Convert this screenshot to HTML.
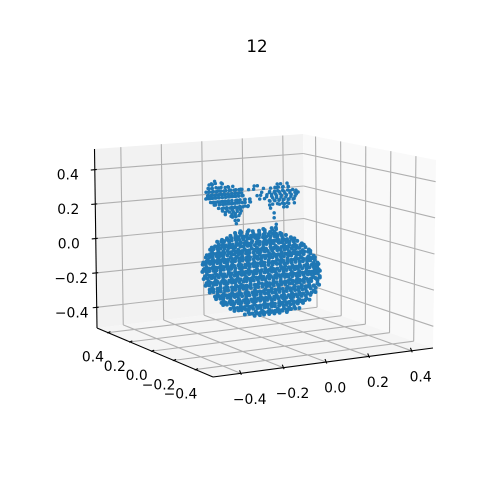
<!DOCTYPE html>
<html lang="en">
<head>
<meta charset="utf-8">
<title>12</title>
<style>
html,body{margin:0;padding:0;background:#fff;width:500px;height:500px;overflow:hidden}
svg{display:block}
text{font-family:"DejaVu Sans","Liberation Sans",sans-serif;fill:#000}
</style>
</head>
<body>
<svg id="chart" xmlns="http://www.w3.org/2000/svg" width="500" height="500" viewBox="0 0 500 500">
<text x="257" y="52" text-anchor="middle" font-size="16.67">12</text>
<g id="panes"></g>
<g id="grid"></g>
<g id="axes"></g>
<g id="labels"></g>
<g id="points" fill="#1f77b4"></g>
</svg>
<script>
const xTicks = [-0.4, -0.2, 0, 0.2, 0.4];
const yTicks = [-0.4, -0.2, 0, 0.2, 0.4];
const zTicks = [-0.4, -0.2, 0, 0.2, 0.4];
const tickText = ['\u22120.4', '\u22120.2', '0.0', '0.2', '0.4'];

// Scatter points: each slice has one y, one z and a list of x values.
const bodySliceZ = [.095,.085,.065,.045,.025,.005,-.015,-.035,-.055,-.075,-.095,-.115,-.135,-.155,-.175,-.195,-.215,-.235,-.255,-.275,-.295,-.315,-.335,-.355,-.375,-.395];
const bodySliceY = [0,.01,-.01,.012,-.006,.01,-.012,.006,-.01,.012,-.008,.01,-.012,.008,-.01,.012,-.006,.01,-.012,.006,-.01,.012,-.008,.01,-.012,.006];
const bodySliceX = [
 [-.1,-.06,.01,.05,.07],
 [-.12,-.09,-.06,-.035,-.005,.022],
 [-.17,-.15,-.13,-.115,-.09,-.075,-.055,-.03,-.015,.005,.03,.05,.065,.085],
 [-.205,-.185,-.17,-.15,-.135,-.115,-.1,-.08,-.06,-.045,-.02,-.005,.015,.03,.05,.07,.085,.105,.125],
 [-.225,-.21,-.19,-.175,-.155,-.14,-.12,-.105,-.085,-.07,-.05,-.025,-.01,.01,.025,.045,.06,.08,.105,.12,.14,.155],
 [-.24,-.225,-.205,-.19,-.17,-.15,-.135,-.12,-.095,-.08,-.06,-.045,-.025,-.005,.015,.03,.05,.065,.09,.105,.125,.14,.16,.178],
 [-.253,-.235,-.22,-.2,-.185,-.165,-.15,-.13,-.115,-.1,-.08,-.065,-.04,-.02,-.005,.015,.04,.055,.07,.09,.11,.125,.145,.16,.18,.197],
 [-.263,-.245,-.23,-.21,-.195,-.18,-.16,-.14,-.125,-.105,-.09,-.07,-.055,-.035,-.015,0,.02,.035,.055,.08,.095,.115,.13,.15,.17,.185,.215],
 [-.27,-.25,-.235,-.215,-.2,-.18,-.165,-.145,-.13,-.11,-.095,-.075,-.06,-.04,-.025,.005,.02,.04,.06,.075,.09,.11,.13,.145,.165,.18,.2,.229],
 [-.275,-.26,-.24,-.225,-.205,-.19,-.17,-.155,-.135,-.12,-.1,-.085,-.065,-.05,-.03,-.01,.005,.025,.045,.06,.08,.1,.115,.135,.15,.175,.19,.21,.242],
 [-.277,-.255,-.24,-.22,-.205,-.185,-.17,-.15,-.135,-.115,-.1,-.08,-.06,-.045,-.025,-.01,.01,.03,.05,.065,.085,.1,.12,.14,.155,.175,.195,.215,.23,.252],
 [-.278,-.26,-.245,-.225,-.21,-.19,-.175,-.155,-.14,-.12,-.1,-.085,-.07,-.05,-.03,-.015,.005,.02,.04,.06,.08,.095,.115,.13,.15,.17,.19,.205,.225,.24,.262],
 [-.276,-.255,-.24,-.22,-.2,-.185,-.165,-.15,-.13,-.115,-.095,-.08,-.06,-.04,-.025,-.005,.015,.035,.05,.07,.09,.105,.125,.145,.16,.18,.2,.215,.235,.25,.267],
 [-.273,-.255,-.235,-.22,-.2,-.18,-.165,-.145,-.125,-.11,-.09,-.075,-.055,-.035,-.02,0,.02,.035,.055,.07,.09,.11,.125,.145,.165,.18,.2,.22,.235,.255,.272],
 [-.268,-.25,-.23,-.215,-.195,-.18,-.16,-.14,-.125,-.105,-.085,-.07,-.05,-.03,-.015,.005,.025,.04,.06,.08,.095,.115,.135,.15,.17,.19,.205,.225,.24,.26,.275],
 [-.262,-.245,-.225,-.21,-.19,-.17,-.155,-.135,-.12,-.1,-.08,-.065,-.045,-.03,-.01,.01,.025,.045,.065,.08,.1,.12,.135,.155,.175,.19,.21,.23,.245,.262,.278],
 [-.252,-.235,-.215,-.2,-.18,-.165,-.145,-.125,-.11,-.09,-.075,-.055,-.035,-.02,0,.02,.035,.055,.07,.09,.11,.125,.145,.165,.18,.2,.215,.235,.255,.277],
 [-.243,-.225,-.205,-.19,-.17,-.155,-.135,-.12,-.1,-.08,-.065,-.045,-.025,-.01,.01,.03,.045,.065,.085,.1,.12,.14,.155,.175,.19,.21,.23,.245,.275],
 [-.23,-.21,-.195,-.175,-.16,-.14,-.125,-.105,-.085,-.07,-.05,-.03,-.015,.005,.025,.04,.06,.08,.095,.115,.13,.15,.17,.185,.205,.225,.245,.27],
 [-.215,-.195,-.18,-.16,-.145,-.125,-.11,-.09,-.07,-.055,-.035,-.02,0,.02,.035,.055,.07,.09,.11,.125,.145,.165,.18,.2,.215,.24,.264],
 [-.198,-.18,-.16,-.145,-.125,-.11,-.09,-.075,-.055,-.035,-.02,0,.015,.035,.055,.07,.09,.105,.125,.145,.16,.18,.195,.215,.235,.254],
 [-.178,-.16,-.14,-.125,-.105,-.09,-.07,-.055,-.035,-.02,0,.02,.035,.055,.07,.09,.11,.125,.145,.16,.18,.2,.22,.242],
 [-.154,-.135,-.12,-.1,-.085,-.065,-.05,-.03,-.01,.005,.025,.04,.06,.08,.095,.115,.13,.15,.17,.19,.205,.226],
 [-.125,-.105,-.09,-.07,-.055,-.035,-.015,0,.02,.035,.055,.07,.09,.11,.125,.145,.16,.18,.205],
 [-.087,-.065,-.05,-.03,-.01,.005,.025,.045,.06,.08,.095,.115,.135,.155,.175],
 [-.03,-.005,.015,.04,.065,.09,.125]
];

const bodyInnerSliceZ = [.075,.055,.035,.015,-.005,-.025,-.045,-.065,-.085,-.105,-.125,-.145,-.165,-.185,-.205,-.225,-.245,-.265,-.285,-.305,-.325,-.345,-.365,-.385];
const bodyInnerSliceY = [-.004,.006,-.012,.014,-.016,.012,-.014,.016,-.01,.014,-.016,.012,-.012,.016,-.014,.01,-.016,.014,-.012,.016,-.01,.012,-.014,.008];
const bodyInnerSliceX = [
 [-.15,-.125,-.1,-.07,-.04,-.012,.015,.04,.06],
 [-.185,-.16,-.14,-.105,-.085,-.065,-.035,-.01,.02,.04,.075,.1],
 [-.21,-.19,-.16,-.125,-.105,-.08,-.05,-.025,.01,.035,.07,.095,.135],
 [-.23,-.205,-.18,-.16,-.13,-.11,-.07,-.045,-.015,.02,.045,.085,.11,.16],
 [-.245,-.215,-.19,-.17,-.14,-.12,-.09,-.055,-.03,0,.035,.06,.1,.125,.15,.185],
 [-.255,-.23,-.2,-.175,-.15,-.11,-.085,-.06,-.025,.01,.03,.065,.085,.12,.16,.2],
 [-.265,-.24,-.215,-.19,-.155,-.125,-.1,-.07,-.04,-.015,.03,.05,.09,.125,.15,.19,.22],
 [-.27,-.245,-.21,-.175,-.15,-.12,-.08,-.05,-.02,.01,.05,.075,.105,.14,.165,.205,.233],
 [-.27,-.235,-.2,-.17,-.145,-.11,-.07,-.04,-.005,.03,.07,.09,.12,.16,.185,.22,.245],
 [-.27,-.25,-.215,-.18,-.155,-.125,-.09,-.055,-.02,.015,.045,.075,.11,.135,.17,.21,.255],
 [-.27,-.23,-.205,-.165,-.135,-.105,-.07,-.03,.01,.04,.085,.105,.14,.175,.21,.24,.26],
 [-.265,-.24,-.205,-.175,-.14,-.1,-.065,-.03,.005,.045,.07,.115,.15,.185,.225,.265],
 [-.26,-.225,-.19,-.15,-.12,-.08,-.045,-.01,.03,.065,.1,.14,.175,.21,.25,.268],
 [-.255,-.22,-.175,-.145,-.115,-.07,-.04,.01,.04,.085,.105,.145,.18,.215,.25,.27],
 [-.245,-.205,-.175,-.13,-.105,-.06,-.02,.015,.05,.085,.13,.165,.2,.24,.272],
 [-.235,-.205,-.165,-.13,-.095,-.05,-.015,.025,.06,.105,.135,.17,.205,.24,.27],
 [-.22,-.19,-.15,-.115,-.08,-.04,.01,.04,.075,.115,.15,.185,.22,.26],
 [-.21,-.175,-.135,-.1,-.065,-.02,.015,.05,.09,.13,.16,.195,.23,.26],
 [-.19,-.155,-.115,-.08,-.04,-.01,.03,.065,.1,.14,.175,.21,.245],
 [-.165,-.13,-.095,-.06,-.025,.01,.045,.085,.12,.155,.195,.23],
 [-.14,-.105,-.075,-.04,.01,.045,.08,.105,.14,.175,.21],
 [-.105,-.08,-.04,-.005,.03,.065,.105,.14,.165,.19],
 [-.07,-.035,-.005,.03,.07,.1,.125,.15],
 [-.01,.02,.05,.075,.105,.13]
];

const leftLeafSliceZ = [.389,.37,.351,.331,.312,.293,.274,.255,.236,.217,.198,.178,.159,.14];
const leftLeafSliceY = [0,.006,-.006,.004,-.004,.006,-.006,.004,-.004,.006,-.006,.004,-.004,0];
const leftLeafSliceX = [
 [-.222],
 [-.245,-.23,-.182],
 [-.253,-.237,-.206,-.175,-.159],
 [-.261,-.245,-.226,-.206,-.19,-.167,-.143,-.119,-.096],
 [-.258,-.242,-.222,-.206,-.19,-.175,-.159,-.143,-.127,-.112,-.096],
 [-.261,-.245,-.23,-.214,-.198,-.182,-.167,-.151,-.135,-.119,-.104,-.088],
 [-.245,-.23,-.21,-.19,-.175,-.159,-.143,-.119,-.104,-.08,-.057],
 [-.222,-.198,-.182,-.167,-.151,-.135,-.112,-.088,-.049],
 [-.206,-.182,-.167,-.143,-.127,-.104,-.08,-.064],
 [-.182,-.159,-.135,-.112,-.096],
 [-.175,-.143,-.127,-.104],
 [-.135,-.119],
 [-.127,-.112],
 [-.119]
];

const leftLeafInnerSliceZ = [.376,.353,.33,.313,.295,.272,.255,.232,.209,.185];
const leftLeafInnerSliceY = [.003,-.003,.003,-.003,.003,-.003,.003,-.003,.003,-.003];
const leftLeafInnerSliceX = [
 [-.236,-.217,-.189],
 [-.255,-.236,-.217,-.193,-.16,-.137],
 [-.25,-.231,-.212,-.193,-.175,-.151,-.127,-.104,-.09],
 [-.255,-.236,-.217,-.198,-.179,-.16,-.142,-.123,-.104],
 [-.259,-.241,-.222,-.203,-.184,-.165,-.146,-.127,-.108,-.085],
 [-.236,-.217,-.198,-.179,-.16,-.142,-.123,-.104,-.08,-.057],
 [-.217,-.198,-.179,-.16,-.142,-.123,-.104,-.075,-.052],
 [-.189,-.17,-.151,-.132,-.113,-.09,-.066],
 [-.17,-.151,-.132,-.113,-.094],
 [-.146,-.127,-.108]
];

const rightLeafSliceZ = [.344,.325,.306,.287,.268,.249,.229,.21,.181,.153,.115,.086];
const rightLeafSliceY = [0,.005,-.005,.004,-.004,.005,-.005,0,0,0,0,0];
const rightLeafSliceX = [
 [-.018,-.033,.077,.093,.124],
 [-.057,-.033,.014,.069,.085,.108,.132],
 [0,.038,.062,.077,.1,.124,.148],
 [-.017,0,.03,.053,.072,.093,.116,.14,.164,.179],
 [-.009,.014,.053,.072,.093,.116,.14,.16],
 [.045,.069,.088,.108,.132,.156],
 [.038,.085,.108,.129,.156],
 [.045,.108,.124],
 [.062],
 [.062],
 [.072],
 [.072,.053,-.104]
];

const rightLeafInnerSliceZ = [.323,.3,.277,.254,.231];
const rightLeafInnerSliceY = [.003,-.003,.003,-.003,.003];
const rightLeafInnerSliceX = [
 [.047,.075,.104,.132],
 [.038,.061,.085,.108,.137,.165],
 [.028,.052,.075,.099,.123,.146,.17],
 [.038,.061,.085,.108,.132,.156],
 [.057,.08,.104,.127]
];

const xLim = [-0.53, 0.5];
const yLim = [-0.56, 0.5];
const zLim = [-0.52, 0.52];

// Screen anchors of the axes box, as [bottom, top] pairs for each vertical edge.
const boxLeft = [[97, 328], [94.5, 149]];
const boxFront = [[213, 377], [212, 179]];
const boxRight = [[433, 348], [436, 160]];
const boxBack = [[305, 303], [303, 134]];

const SVG_NS = 'http://www.w3.org/2000/svg';

function lerp(a, b, t) {
  return a + (b - a) * t;
}

function project(x, y, z) {
  const tx = (x - xLim[0]) / (xLim[1] - xLim[0]);
  const ty = (y - yLim[0]) / (yLim[1] - yLim[0]);
  const tz = (z - zLim[0]) / (zLim[1] - zLim[0]);
  const out = [0, 1].map(function (i) {
    const near = lerp(lerp(boxFront[0][i], boxRight[0][i], tx), lerp(boxFront[1][i], boxRight[1][i], tx), tz);
    const far = lerp(lerp(boxLeft[0][i], boxBack[0][i], tx), lerp(boxLeft[1][i], boxBack[1][i], tx), tz);
    return lerp(near, far, ty);
  });
  return { sx: out[0], sy: out[1] };
}

function drawLine(parent, a, b, color, width, name) {
  const el = document.createElementNS(SVG_NS, 'line');
  el.setAttribute('x1', a.sx);
  el.setAttribute('y1', a.sy);
  el.setAttribute('x2', b.sx);
  el.setAttribute('y2', b.sy);
  el.setAttribute('stroke', color);
  el.setAttribute('stroke-width', width);
  
  
  parent.appendChild(el);
}

function drawPane(corners, color, name) {
  const el = document.createElementNS(SVG_NS, 'polygon');
  el.setAttribute('points', corners.map(function (c) {
    const p = project(c[0], c[1], c[2]);
    return p.sx + ',' + p.sy;
  }).join(' '));
  el.setAttribute('fill', color);
  
  
  document.getElementById('panes').appendChild(el);
}

function drawLabel(p, dx, dy, text, name) {
  const el = document.createElementNS(SVG_NS, 'text');
  el.setAttribute('x', p.sx + dx);
  el.setAttribute('y', p.sy + dy);
  el.setAttribute('text-anchor', 'middle');
  el.setAttribute('font-size', '13.89');
  
  
  el.textContent = text;
  document.getElementById('labels').appendChild(el);
}

const x0 = xLim[0], x1 = xLim[1], y0 = yLim[0], y1 = yLim[1], z0 = zLim[0], z1 = zLim[1];
drawPane([[x0, y1, z0], [x0, y1, z1], [x1, y1, z1], [x1, y1, z0]], '#f2f2f2', 'back-left-pane');
drawPane([[x1, y1, z0], [x1, y1, z1], [x1, y0, z1], [x1, y0, z0]], '#f9f9f9', 'back-right-pane');
drawPane([[x0, y1, z0], [x1, y1, z0], [x1, y0, z0], [x0, y0, z0]], '#f5f5f5', 'floor-pane');

const gridGroup = document.getElementById('grid');
const axesGroup = document.getElementById('axes');
const GRID = '#b0b0b0', GW = 1.1;

xTicks.forEach(function (t, i) {
  drawLine(gridGroup, project(t, y0, z0), project(t, y1, z0), GRID, GW, 'x-grid-floor');
  drawLine(gridGroup, project(t, y1, z0), project(t, y1, z1), GRID, GW, 'x-grid-wall');
  const p = project(t, y0, z0);
  drawLine(axesGroup, { sx: p.sx + 0.6, sy: p.sy + 1.5 }, { sx: p.sx - 1.2, sy: p.sy - 3 }, '#000', 1.1, 'x-tick');
  drawLabel(p, 9, 30.5, tickText[i], 'x-tick-label');
});

yTicks.forEach(function (t, i) {
  drawLine(gridGroup, project(x0, t, z0), project(x1, t, z0), GRID, GW, 'y-grid-floor');
  drawLine(gridGroup, project(x1, t, z0), project(x1, t, z1), GRID, GW, 'y-grid-wall');
  const p = project(x0, t, z0);
  drawLine(axesGroup, { sx: p.sx - 0.8, sy: p.sy + 0.4 }, { sx: p.sx + 2.5, sy: p.sy - 1 }, '#000', 1.1, 'y-tick');
  drawLabel(p, -15, 29, tickText[i], 'y-tick-label');
});

zTicks.forEach(function (t, i) {
  drawLine(gridGroup, project(x0, y1, t), project(x1, y1, t), GRID, GW, 'z-grid-left');
  drawLine(gridGroup, project(x1, y1, t), project(x1, y0, t), GRID, GW, 'z-grid-right');
  const p = project(x0, y1, t);
  drawLine(axesGroup, { sx: p.sx - 4, sy: p.sy + 0.4 }, { sx: p.sx + 2, sy: p.sy - 0.2 }, '#000', 1.1, 'z-tick');
  drawLabel(p, t < 0 ? -25 : -27, 10, tickText[i], 'z-tick-label');
});

drawLine(axesGroup, project(x0, y1, z1), project(x0, y1, z0), '#000', 1.1, 'z-axis-line');
drawLine(axesGroup, project(x0, y1, z0), project(x0, y0, z0), '#000', 1.1, 'y-axis-line');
drawLine(axesGroup, project(x0, y0, z0), project(x1, y0, z0), '#000', 1.1, 'x-axis-line');

const pointsGroup = document.getElementById('points');

function drawSlices(sliceX, sliceY, sliceZ, radius, name) {
  sliceX.forEach(function (row, i) {
    row.forEach(function (x) {
      const p = project(x, sliceY[i], sliceZ[i]);
      const el = document.createElementNS(SVG_NS, 'circle');
      el.setAttribute('cx', p.sx);
      el.setAttribute('cy', p.sy);
      el.setAttribute('r', radius);
      
      
      pointsGroup.appendChild(el);
    });
  });
}

drawSlices(bodySliceX, bodySliceY, bodySliceZ, 2, 'body-point');
drawSlices(bodyInnerSliceX, bodyInnerSliceY, bodyInnerSliceZ, 2, 'body-point');
drawSlices(leftLeafSliceX, leftLeafSliceY, leftLeafSliceZ, 1.75, 'left-leaf-point');
drawSlices(leftLeafInnerSliceX, leftLeafInnerSliceY, leftLeafInnerSliceZ, 1.75, 'left-leaf-point');
drawSlices(rightLeafSliceX, rightLeafSliceY, rightLeafSliceZ, 1.75, 'right-leaf-point');
drawSlices(rightLeafInnerSliceX, rightLeafInnerSliceY, rightLeafInnerSliceZ, 1.75, 'right-leaf-point');
</script>
</body>
</html>
